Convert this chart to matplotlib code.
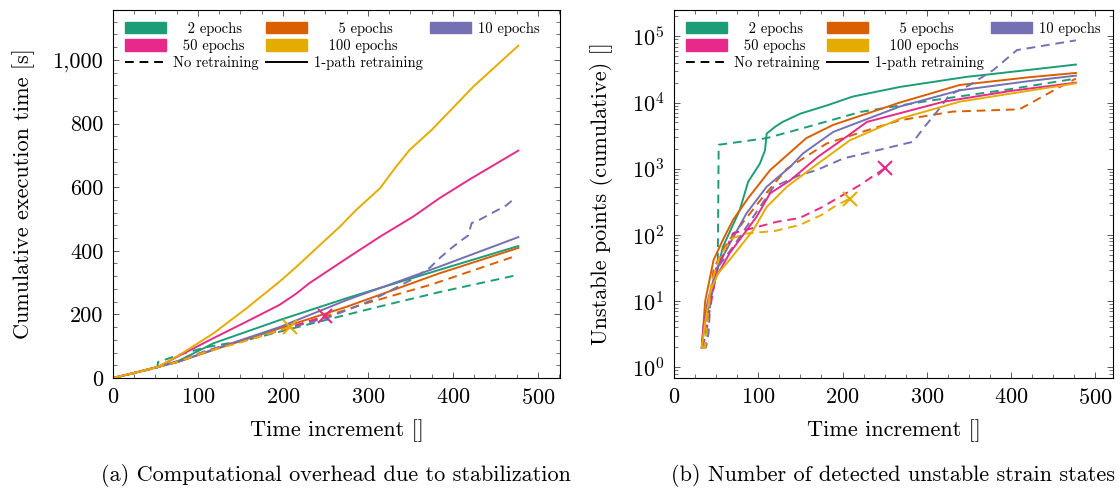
import matplotlib
matplotlib.use("Agg")
import matplotlib.pyplot as plt
import matplotlib.patches as mpatches
from matplotlib.lines import Line2D
from matplotlib.ticker import MultipleLocator, FuncFormatter, LogLocator, NullFormatter

plt.rcParams['font.family'] = ['cmr10']
plt.rcParams['mathtext.fontset'] = 'cm'
plt.rcParams['axes.formatter.use_mathtext'] = True

# colours per epoch setting
epochs = ['2 epochs', '5 epochs', '10 epochs', '50 epochs', '100 epochs']
colors = ['#1B9E77', '#D95F02', '#7570B3', '#E7298A', '#E6AB02']

# ---- (a) cumulative execution time [s] ----
t_x_2 = [0, 25, 53, 78, 110, 118, 196, 275, 384, 477]
t_y_2 = [0, 16, 35, 55, 98, 109, 182, 251, 340, 415]
t_x_5 = [0, 25, 53, 78, 118, 196, 275, 384, 477]
t_y_5 = [0, 16, 35, 52, 88, 156, 224, 329, 409]
t_x_10 = [0, 25, 53, 78, 118, 196, 275, 384, 477]
t_y_10 = [0, 16, 35, 52, 90, 160, 245, 350, 443]
t_x_50 = [0, 25, 53, 78, 118, 157, 196, 216, 231, 275, 314, 353, 384, 420, 477]
t_y_50 = [0, 16, 35, 70, 125, 177, 230, 266, 298, 376, 444, 507, 565, 625, 715]
t_x_100 = [0, 25, 53, 78, 118, 157, 196, 216, 235, 267, 286, 314, 333, 349, 375, 424, 477]
t_y_100 = [0, 16, 35, 72, 140, 219, 303, 350, 397, 476, 528, 596, 664, 717, 780, 916, 1045]

t_x_2_nr = [0, 25, 52, 53, 80, 110, 157, 235, 314, 384, 471]
t_y_2_nr = [0, 16, 32, 50, 75, 97, 119, 172, 225, 270, 321]
t_x_5_nr = [0, 25, 53, 75, 110, 150, 205, 298, 376, 471]
t_y_5_nr = [0, 16, 35, 50, 85, 115, 155, 235, 295, 381]
t_x_10_nr = [0, 25, 53, 75, 110, 150, 205, 255, 305, 349, 373, 384, 398, 410, 418, 422, 431, 463, 473]
t_y_10_nr = [0, 16, 35, 50, 86, 116, 156, 192, 245, 306, 347, 376, 408, 433, 448, 487, 497, 543, 566]
t_x_50_nr = [0, 25, 53, 75, 110, 150, 205, 250]
t_y_50_nr = [0, 16, 35, 50, 84, 113, 157, 195]
t_x_100_nr = [0, 25, 53, 75, 110, 150, 208]
t_y_100_nr = [0, 16, 35, 50, 83, 112, 160]

# ---- (b) unstable points (cumulative) ----
u_x_2 = [33, 37, 43, 58, 78, 88, 102, 108, 110, 120, 129, 150, 181, 212, 268, 347, 420, 477]
u_y_2 = [2, 5, 10, 66, 237, 635, 1200, 1900, 3400, 4300, 5100, 6800, 9000, 12300, 17200, 24400, 31000, 37500]
u_x_5 = [33, 34, 37, 47, 58, 70, 88, 114, 157, 189, 268, 339, 420, 477]
u_y_5 = [2, 3, 10, 42, 84, 168, 360, 950, 2900, 4600, 10000, 18400, 24000, 28000]
u_x_10 = [33, 35, 40, 50, 62, 86, 110, 138, 153, 189, 268, 339, 420, 477]
u_y_10 = [2, 4, 10, 30, 59, 212, 535, 1070, 1700, 3600, 8700, 15300, 21000, 25500]
u_x_50 = [33, 35, 41, 49, 66, 98, 114, 138, 171, 205, 229, 320, 400, 477]
u_y_50 = [2, 4, 10, 22, 53, 188, 425, 670, 1520, 3060, 5100, 10300, 15000, 20000]
u_x_100 = [33, 36, 43, 52, 66, 94, 110, 134, 171, 209, 268, 339, 420, 477]
u_y_100 = [2, 4, 14, 26, 42, 118, 265, 535, 1200, 2700, 5700, 10300, 15000, 19500]

u_x_2_nr = [33, 38, 45, 52, 53, 110, 150, 221, 300, 400, 477]
u_y_2_nr = [2, 3, 15, 40, 2300, 2900, 4000, 7200, 10500, 16000, 23000]
u_x_5_nr = [33, 37, 40, 47, 58, 70, 106, 134, 181, 229, 268, 331, 410, 458, 477]
u_y_5_nr = [2, 2, 6, 30, 60, 100, 380, 1000, 2400, 3800, 5400, 7300, 7900, 17200, 23000]
u_x_10_nr = [33, 38, 41, 43, 50, 70, 118, 149, 169, 201, 284, 296, 312, 327, 351, 379, 407, 477]
u_y_10_nr = [2, 2, 3.3, 9, 30, 66, 530, 800, 950, 1430, 2560, 4100, 7250, 13000, 18400, 31000, 62000, 87000]
u_x_50_nr = [33, 37, 43, 51, 70, 94, 122, 149, 175, 197, 220, 244, 251]
u_y_50_nr = [2, 3, 8, 30, 106, 127, 158, 180, 260, 378, 560, 900, 1030]
u_x_100_nr = [33, 37, 40, 45, 55, 70, 86, 120, 149, 175, 193, 209]
u_y_100_nr = [2, 2, 6, 20, 50, 90, 105, 115, 141, 200, 282, 355]

time_solid = [(t_x_2, t_y_2), (t_x_5, t_y_5), (t_x_10, t_y_10), (t_x_50, t_y_50), (t_x_100, t_y_100)]
time_dash = [(t_x_2_nr, t_y_2_nr), (t_x_5_nr, t_y_5_nr), (t_x_10_nr, t_y_10_nr),
             (t_x_50_nr, t_y_50_nr), (t_x_100_nr, t_y_100_nr)]
unst_solid = [(u_x_2, u_y_2), (u_x_5, u_y_5), (u_x_10, u_y_10), (u_x_50, u_y_50), (u_x_100, u_y_100)]
unst_dash = [(u_x_2_nr, u_y_2_nr), (u_x_5_nr, u_y_5_nr), (u_x_10_nr, u_y_10_nr),
             (u_x_50_nr, u_y_50_nr), (u_x_100_nr, u_y_100_nr)]
# runs that crashed (marked with x at their last point)
crashed = [3, 4]

LW = 1.4
DASH = (0, (4.5, 3))
FS = 16


def style_axes(ax):
    ax.tick_params(which='both', direction='in', top=True, right=True, color='0.35',
                   labelsize=FS, pad=7)
    ax.tick_params(which='major', length=4.5, width=0.7)
    ax.tick_params(which='minor', length=3, width=0.6)
    for s in ax.spines.values():
        s.set_linewidth(0.8)


def pad(label, n):
    # pgfplots centres the legend text in its column, fake that with spaces
    return ' ' * n + label


def add_legend(ax):
    h = [mpatches.Patch(color=colors[0], label=pad(epochs[0], 3)),
         mpatches.Patch(color=colors[3], label=pad(epochs[3], 2)),
         Line2D([], [], color='k', lw=LW, linestyle=DASH, label='No retraining'),
         mpatches.Patch(color=colors[1], label=pad(epochs[1], 5)),
         mpatches.Patch(color=colors[4], label=pad(epochs[4], 3)),
         Line2D([], [], color='k', lw=LW, label='1-path retraining'),
         mpatches.Patch(color=colors[2], label=epochs[2]),
         Line2D([], [], linestyle='none', label='')]
    ax.legend(handles=h, ncol=3, loc='upper left', frameon=False, fontsize=10.5,
              handlelength=2.8, handleheight=0.85, handletextpad=0.5,
              columnspacing=0.5, labelspacing=0.22, borderaxespad=0.5, borderpad=0.3)


fig = plt.figure(figsize=(11.2, 4.9), dpi=100)
ax1 = fig.add_axes([113 / 1120, 1 - 378 / 490, 447 / 1120, 368 / 490])
ax2 = fig.add_axes([674 / 1120, 1 - 378 / 490, 439 / 1120, 368 / 490])

for i, c in enumerate(colors):
    xs, ys = time_solid[i]
    ax1.plot(xs, ys, color=c, lw=LW)
    xs, ys = time_dash[i]
    ax1.plot(xs, ys, color=c, lw=LW, linestyle=DASH)
    if i in crashed:
        ax1.plot(xs[-1], ys[-1], marker='x', color=c, markersize=10, mew=1.5)

    xs, ys = unst_solid[i]
    ax2.plot(xs, ys, color=c, lw=LW)
    xs, ys = unst_dash[i]
    ax2.plot(xs, ys, color=c, lw=LW, linestyle=DASH)
    if i in crashed:
        ax2.plot(xs[-1], ys[-1], marker='x', color=c, markersize=10, mew=1.5)

ax1.set_xlim(0, 526)
ax1.set_ylim(0, 1157)
ax1.xaxis.set_major_locator(MultipleLocator(100))
ax1.xaxis.set_minor_locator(MultipleLocator(25))
ax1.yaxis.set_major_locator(MultipleLocator(200))
ax1.yaxis.set_minor_locator(MultipleLocator(40))
ax1.yaxis.set_major_formatter(FuncFormatter(lambda v, p: f"{int(v):,}"))
ax1.set_xlabel('Time increment []', fontsize=FS)
ax1.set_ylabel('Cumulative execution time [s]', fontsize=FS)
style_axes(ax1)
add_legend(ax1)

ax2.set_yscale('log')
ax2.set_xlim(0, 521)
ax2.set_ylim(0.69, 2.5e5)
ax2.xaxis.set_major_locator(MultipleLocator(100))
ax2.xaxis.set_minor_locator(MultipleLocator(25))
ax2.yaxis.set_major_locator(LogLocator(base=10, numticks=10))
ax2.yaxis.set_minor_locator(LogLocator(base=10, subs=range(2, 10), numticks=20))
ax2.yaxis.set_minor_formatter(NullFormatter())
ax2.set_xlabel('Time increment []', fontsize=FS)
ax2.set_ylabel('Unstable points (cumulative) []', fontsize=FS)
style_axes(ax2)
add_legend(ax2)

ax1.xaxis.set_label_coords(0.5, -0.112)
ax2.xaxis.set_label_coords(0.5, -0.112)
ax1.yaxis.set_label_coords(-0.175, 0.5)
ax2.yaxis.set_label_coords(-0.14, 0.5)

fig.text(336 / 1120, 0.03, '(a) Computational overhead due to stabilization', fontsize=FS,
         ha='center', va='center')
fig.text(893 / 1120, 0.03, '(b) Number of detected unstable strain states', fontsize=FS,
         ha='center', va='center')

fig.savefig('out.png', dpi=100)
